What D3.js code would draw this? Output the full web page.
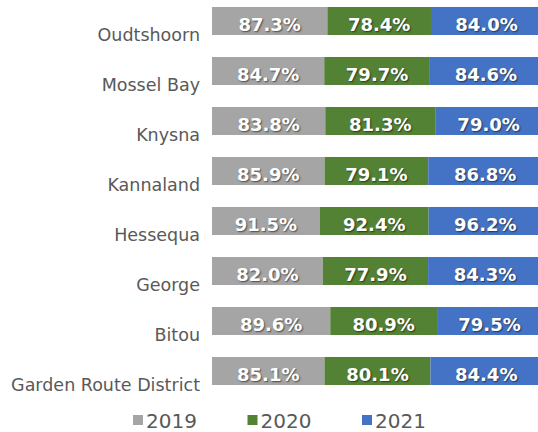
<!DOCTYPE html>
<meta charset="utf-8">
<title>Garden Route</title>
<style>
body { margin: 0; overflow: hidden; background: #fff; }
.cat text { font: 17.5px "DejaVu Sans", sans-serif; fill: #595959; }
.val { font: bold 18px "DejaVu Sans", sans-serif; fill: #fff;
  text-shadow: 1px 1px 1.5px rgba(0,0,0,0.55); }
.legend text { font: 20px "DejaVu Sans", sans-serif; fill: #595959; }
</style>
<body>
<script src="https://cdnjs.cloudflare.com/ajax/libs/d3/7.8.5/d3.min.js"></script>
<script>

var categories = ["Oudtshoorn", "Mossel Bay", "Knysna", "Kannaland", "Hessequa", "George", "Bitou", "Garden Route District"];
var series = ["2019", "2020", "2021"];
var y2019 = [87.3, 84.7, 83.8, 85.9, 91.5, 82.0, 89.6, 85.1];
var y2020 = [78.4, 79.7, 81.3, 79.1, 92.4, 77.9, 80.9, 80.1];
var y2021 = [84.0, 84.6, 79.0, 86.8, 96.2, 84.3, 79.5, 84.4];

var colors = ["#a5a5a5", "#548235", "#4472c4"];

var width = 538, height = 432;

var rows = categories.map(function(c, i) {
  return { name: c, "2019": y2019[i], "2020": y2020[i], "2021": y2021[i] };
});

var stacked = d3.stack().keys(series).offset(d3.stackOffsetExpand)(rows);

var x = d3.scaleLinear().domain([0, 1]).range([212, 542]);

var y = d3.scaleBand()
    .domain(categories)
    .range([7, 385])
    .paddingInner(0.44)
    .paddingOuter(0)
    .align(0);

var color = d3.scaleOrdinal().domain(series).range(colors);

var svg = d3.select("body").append("svg")
    .attr("width", width)
    .attr("height", height);

var layer = svg.selectAll(".layer")
    .data(stacked)
  .enter().append("g")
    .attr("class", "layer")
    .attr("fill", function(d) { return color(d.key); });

layer.selectAll("rect")
    .data(function(d) { return d; })
  .enter().append("rect")
    .attr("x", function(d) { return x(d[0]); })
    .attr("y", function(d) { return y(d.data.name); })
    .attr("width", function(d) { return x(d[1]) - x(d[0]); })
    .attr("height", y.bandwidth());

layer.selectAll("text")
    .data(function(d) { return d.map(function(p) { p.key = d.key; return p; }); })
  .enter().append("text")
    .attr("class", "val")
    .attr("x", function(d) { return (x(d[0]) + x(d[1])) / 2; })
    .attr("y", function(d) { return y(d.data.name) + 23.5; })
    .style("text-anchor", "middle")
    .text(function(d) { return d.data[d.key].toFixed(1) + "%"; });

// category labels, sitting a bit lower than the bars like the excel original
var cat = svg.append("g").attr("class", "cat");
cat.selectAll("text")
    .data(categories)
  .enter().append("text")
    .attr("x", 200)
    .attr("y", function(d) { return y(d) + 33.5; })
    .style("text-anchor", "end")
    .text(function(d) { return d; });

var lx = d3.scalePoint().domain(series).range([133, 362]);

var legend = svg.selectAll(".legend")
    .data(series)
  .enter().append("g")
    .attr("class", "legend")
    .attr("transform", function(d) { return "translate(" + lx(d) + ",0)"; });

legend.append("rect")
    .attr("y", 415)
    .attr("width", 10)
    .attr("height", 10)
    .style("fill", color);

legend.append("text")
    .attr("x", 13)
    .attr("y", 428)
    .text(function(d) { return d; });

</script>
</body>
